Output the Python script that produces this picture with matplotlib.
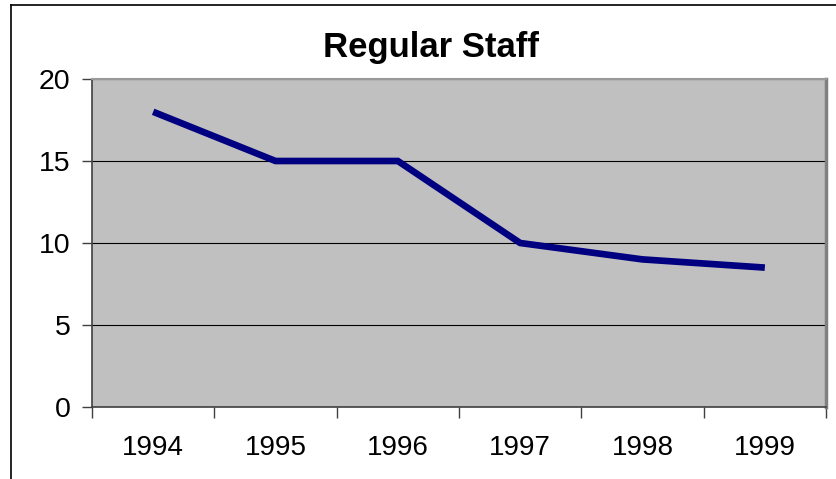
import matplotlib
matplotlib.use("Agg")
import matplotlib.pyplot as plt
from matplotlib.lines import Line2D
import numpy as np

years = ["1994", "1995", "1996", "1997", "1998", "1999"]
staff = [18, 15, 15, 10, 9, 8.5]
y_ticks = [0, 5, 10, 15, 20]

plt.rcParams['font.family'] = ['Liberation Sans', 'DejaVu Sans']

fig = plt.figure(figsize=(8.37, 4.79), dpi=100)
ax = fig.add_axes([92/837, 1 - 407/479, (826-92)/837, (407-79)/479])
ax.set_facecolor("#c0c0c0")

x = np.arange(len(years))
ax.plot(x, staff, color="#000080", linewidth=4.8, solid_capstyle="butt",
        solid_joinstyle="miter", zorder=3)

ax.set_xlim(-0.5, len(years) - 0.5)
ax.set_ylim(0, 20)
ax.set_yticks(y_ticks)
ax.set_yticklabels([str(v) for v in y_ticks], fontsize=20.5)
ax.grid(axis="y", color="black", linewidth=0.8)
ax.set_axisbelow(True)

# ticks at category boundaries, labels centred
ax.set_xticks(np.arange(len(years) + 1) - 0.5)
ax.set_xticklabels([])
ax.set_xticks(x, minor=True)
ax.set_xticklabels(years, minor=True, fontsize=20)
ax.tick_params(axis="x", which="major", length=8, color="#404040", width=1)
ax.tick_params(axis="x", which="minor", length=0, pad=20)
ax.tick_params(axis="y", length=7, color="#404040", width=1, pad=8.5)

for s in ["left", "bottom"]:
    ax.spines[s].set_color("#404040")
    ax.spines[s].set_linewidth(1.2)
ax.spines["top"].set_color("#999999")
ax.spines["top"].set_linewidth(1.5)
ax.spines["right"].set_color("#808080")
ax.spines["right"].set_linewidth(2.5)

fig.text(431/837, 1 - 47/479, "Regular Staff", ha="center",
         va="center", fontsize=25, fontweight="bold")

# outer chart border (top and left visible)
fig.add_artist(Line2D([11/837, 1.0], [1 - 5/479, 1 - 5/479], color="black",
                      linewidth=1.2, transform=fig.transFigure))
fig.add_artist(Line2D([11/837, 11/837], [0, 1 - 5/479], color="black",
                      linewidth=1.2, transform=fig.transFigure))

fig.savefig("out.png", dpi=100, facecolor="white")
